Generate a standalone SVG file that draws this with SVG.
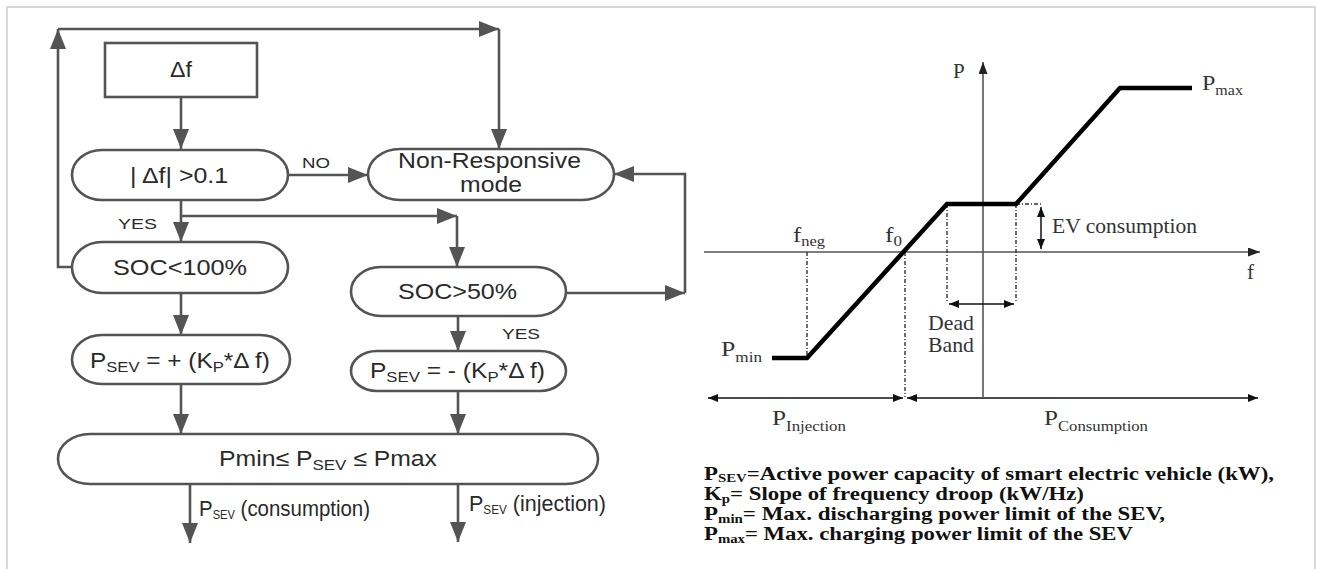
<svg xmlns="http://www.w3.org/2000/svg" width="1317" height="569" viewBox="0 0 1317 569">
<style>
.box{fill:#fff;stroke:#545454;stroke-width:2.6}
.ln{fill:none;stroke:#545454;stroke-width:2.6}
.ft{font-family:"Liberation Sans",Arial,sans-serif;fill:#2a2a2a;font-size:22px}
.fs{font-family:"Liberation Sans",Arial,sans-serif;fill:#2a2a2a;font-size:15px}
.ax{fill:none;stroke:#555;stroke-width:1.6}
.curve{fill:none;stroke:#000;stroke-width:4.5;stroke-linejoin:miter}
.dd{fill:none;stroke:#333;stroke-width:1.4;stroke-dasharray:4 2 1 2}
.dbl{fill:none;stroke:#111;stroke-width:1.5}
.ct{font-family:"Liberation Serif","Times New Roman",serif;fill:#333;font-size:21px}
.lg{font-family:"Liberation Serif","Times New Roman",serif;fill:#111;font-size:18.5px;font-weight:bold}
</style>
<defs>
<marker id="ah" viewBox="0 0 20 16" refX="20" refY="8" markerWidth="20" markerHeight="16" markerUnits="userSpaceOnUse" orient="auto">
<path d="M0,0 L20,8 L0,16 z" fill="#545454"/>
</marker>
<marker id="sa" viewBox="0 0 10 8" refX="10" refY="4" markerWidth="10" markerHeight="8" markerUnits="userSpaceOnUse" orient="auto-start-reverse">
<path d="M0,0 L10,4 L0,8 z" fill="#111"/>
</marker>
<marker id="axa" viewBox="0 0 12 9" refX="12" refY="4.5" markerWidth="12" markerHeight="9" markerUnits="userSpaceOnUse" orient="auto">
<path d="M0,0 L12,4.5 L0,9 z" fill="#222"/>
</marker>
</defs>
<rect width="1317" height="569" fill="#fff"/>
<path d="M7,569 V7 H1315 V569" fill="none" stroke="#d8d8d8" stroke-width="2"/>

<g id="connectors">
<path class="ln" d="M72,267 H58 V29" marker-end="url(#ah)"/>
<path class="ln" d="M58,29 H499" marker-end="url(#ah)"/>
<path class="ln" d="M499,29 V149" marker-end="url(#ah)"/>
<path class="ln" d="M181,97 V149" marker-end="url(#ah)"/>
<path class="ln" d="M288,175 H368" marker-end="url(#ah)"/>
<path class="ln" d="M181,200 V242" marker-end="url(#ah)"/>
<path class="ln" d="M181,216 H457" marker-end="url(#ah)"/>
<path class="ln" d="M457,216 V267" marker-end="url(#ah)"/>
<path class="ln" d="M566,293 H685" marker-end="url(#ah)"/>
<path class="ln" d="M685,293 V174 H614" marker-end="url(#ah)"/>
<path class="ln" d="M181,293 V335" marker-end="url(#ah)"/>
<path class="ln" d="M458,316 V351" marker-end="url(#ah)"/>
<path class="ln" d="M181,384 V434" marker-end="url(#ah)"/>
<path class="ln" d="M458,391 V434" marker-end="url(#ah)"/>
<path class="ln" d="M190,484 V543" marker-end="url(#ah)"/>
<path class="ln" d="M458,484 V542" marker-end="url(#ah)"/>
<text class="fs" x="302" y="168" textLength="28" lengthAdjust="spacingAndGlyphs">NO</text>
<text class="fs" x="118" y="229" textLength="39" lengthAdjust="spacingAndGlyphs">YES</text>
<text class="fs" x="502" y="339" textLength="38" lengthAdjust="spacingAndGlyphs">YES</text>
<text class="ft" x="199" y="516" font-size="17" textLength="171" lengthAdjust="spacingAndGlyphs">P<tspan font-size="12" dy="3">SEV</tspan><tspan dy="-3"> (consumption)</tspan></text>
<text class="ft" x="469" y="511" font-size="17" textLength="137" lengthAdjust="spacingAndGlyphs">P<tspan font-size="12" dy="3">SEV</tspan><tspan dy="-3">  (injection)</tspan></text>
</g>

<g id="node-df">
<rect class="box" x="105" y="43" width="152" height="54"/>
<text class="ft" x="170" y="77" textLength="22" lengthAdjust="spacingAndGlyphs">Δf</text>
</g>
<g id="node-abs">
<rect class="box" x="72" y="150" width="216" height="50" rx="30" ry="25"/>
<text class="ft" x="130" y="183" textLength="98" lengthAdjust="spacingAndGlyphs">| Δf| &gt;0.1</text>
</g>
<g id="node-nonresp">
<rect class="box" x="368" y="149" width="246" height="51" rx="32" ry="25.5"/>
<text class="ft" x="398" y="168" font-size="20" textLength="183" lengthAdjust="spacingAndGlyphs">Non-Responsive</text>
<text class="ft" x="460" y="192" font-size="20" textLength="62" lengthAdjust="spacingAndGlyphs">mode</text>
</g>
<g id="node-soc100">
<rect class="box" x="72" y="242" width="216" height="51" rx="30" ry="25.5"/>
<text class="ft" x="113" y="275" textLength="134" lengthAdjust="spacingAndGlyphs">SOC&lt;100%</text>
</g>
<g id="node-soc50">
<rect class="box" x="351" y="267" width="215" height="49" rx="30" ry="24.5"/>
<text class="ft" x="398" y="299" textLength="119" lengthAdjust="spacingAndGlyphs">SOC&gt;50%</text>
</g>
<g id="node-pplus">
<rect class="box" x="72" y="335" width="218" height="49" rx="30" ry="24.5"/>
<text class="ft" x="90" y="368" textLength="180" lengthAdjust="spacingAndGlyphs">P<tspan font-size="15" dy="4">SEV</tspan><tspan dy="-4"> = + (K</tspan><tspan font-size="15" dy="4">P</tspan><tspan dy="-4">*Δ f)</tspan></text>
</g>
<g id="node-pminus">
<rect class="box" x="351" y="351" width="215" height="40" rx="26" ry="20"/>
<text class="ft" x="370" y="378" textLength="175" lengthAdjust="spacingAndGlyphs">P<tspan font-size="15" dy="4">SEV</tspan><tspan dy="-4"> = - (K</tspan><tspan font-size="15" dy="4">P</tspan><tspan dy="-4">*Δ f)</tspan></text>
</g>
<g id="node-limit">
<rect class="box" x="58" y="434" width="540" height="50" rx="32" ry="25"/>
<text class="ft" x="219" y="466" textLength="218" lengthAdjust="spacingAndGlyphs">Pmin≤ P<tspan font-size="15" dy="4">SEV</tspan><tspan dy="-4"> ≤ Pmax</tspan></text>
</g>

<g id="chart">
<path class="ax" d="M983,397 V62" marker-end="url(#axa)"/>
<path class="ax" d="M704,252 H1260" marker-end="url(#axa)"/>
<path class="dd" d="M807,252 V358 M905,252 V397 M947,204 V303 M1016,204 V303 M1016,204 H1042"/>
<path class="curve" d="M772,358 H807 L947,204 H1016 L1120,88 H1192"/>
<path class="dbl" d="M1041,207 V249" marker-start="url(#sa)" marker-end="url(#sa)"/>
<path class="dbl" d="M949,304 H1014" marker-start="url(#sa)" marker-end="url(#sa)"/>
<path class="dbl" d="M708,398 H903" marker-start="url(#sa)" marker-end="url(#sa)"/>
<path class="dbl" d="M907,398 H1258" marker-start="url(#sa)" marker-end="url(#sa)"/>
<text class="ct" x="953" y="78" font-size="25">P</text>
<text class="ct" x="1247" y="279" font-size="25">f</text>
<text class="ct" x="1202" y="90" font-size="25" textLength="41" lengthAdjust="spacingAndGlyphs">P<tspan font-size="14" dy="5">max</tspan></text>
<text class="ct" x="721" y="356" font-size="25" textLength="41" lengthAdjust="spacingAndGlyphs">P<tspan font-size="14" dy="6">min</tspan></text>
<text class="ct" x="793" y="242" font-size="22" textLength="32" lengthAdjust="spacingAndGlyphs">f<tspan font-size="14" dy="4">neg</tspan></text>
<text class="ct" x="885" y="242" font-size="22" textLength="17" lengthAdjust="spacingAndGlyphs">f<tspan font-size="14" dy="4">0</tspan></text>
<text class="ct" x="1052" y="233" font-size="20" textLength="145" lengthAdjust="spacingAndGlyphs">EV consumption</text>
<text class="ct" x="928" y="330" font-size="20" textLength="46" lengthAdjust="spacingAndGlyphs">Dead</text>
<text class="ct" x="928" y="352" font-size="20" textLength="46" lengthAdjust="spacingAndGlyphs">Band</text>
<text class="ct" x="772" y="425" font-size="25" textLength="74" lengthAdjust="spacingAndGlyphs">P<tspan font-size="14" dy="6">Injection</tspan></text>
<text class="ct" x="1044" y="425" font-size="25" textLength="104" lengthAdjust="spacingAndGlyphs">P<tspan font-size="14" dy="6">Consumption</tspan></text>
</g>

<g id="legend">
<text class="lg" x="704" y="480" textLength="570" lengthAdjust="spacingAndGlyphs">P<tspan font-size="12" dy="2">SEV</tspan><tspan dy="-2">=Active power capacity of smart electric vehicle (kW),</tspan></text>
<text class="lg" x="704" y="500" textLength="380" lengthAdjust="spacingAndGlyphs">K<tspan font-size="12" dy="3">p</tspan><tspan dy="-3">= Slope of frequency droop (kW/Hz)</tspan></text>
<text class="lg" x="704" y="520" textLength="461" lengthAdjust="spacingAndGlyphs">P<tspan font-size="12" dy="3">min</tspan><tspan dy="-3">= Max. discharging power limit of the SEV,</tspan></text>
<text class="lg" x="704" y="540" textLength="429" lengthAdjust="spacingAndGlyphs">P<tspan font-size="12" dy="3">max</tspan><tspan dy="-3">= Max. charging power limit of the SEV</tspan></text>
</g>
</svg>
